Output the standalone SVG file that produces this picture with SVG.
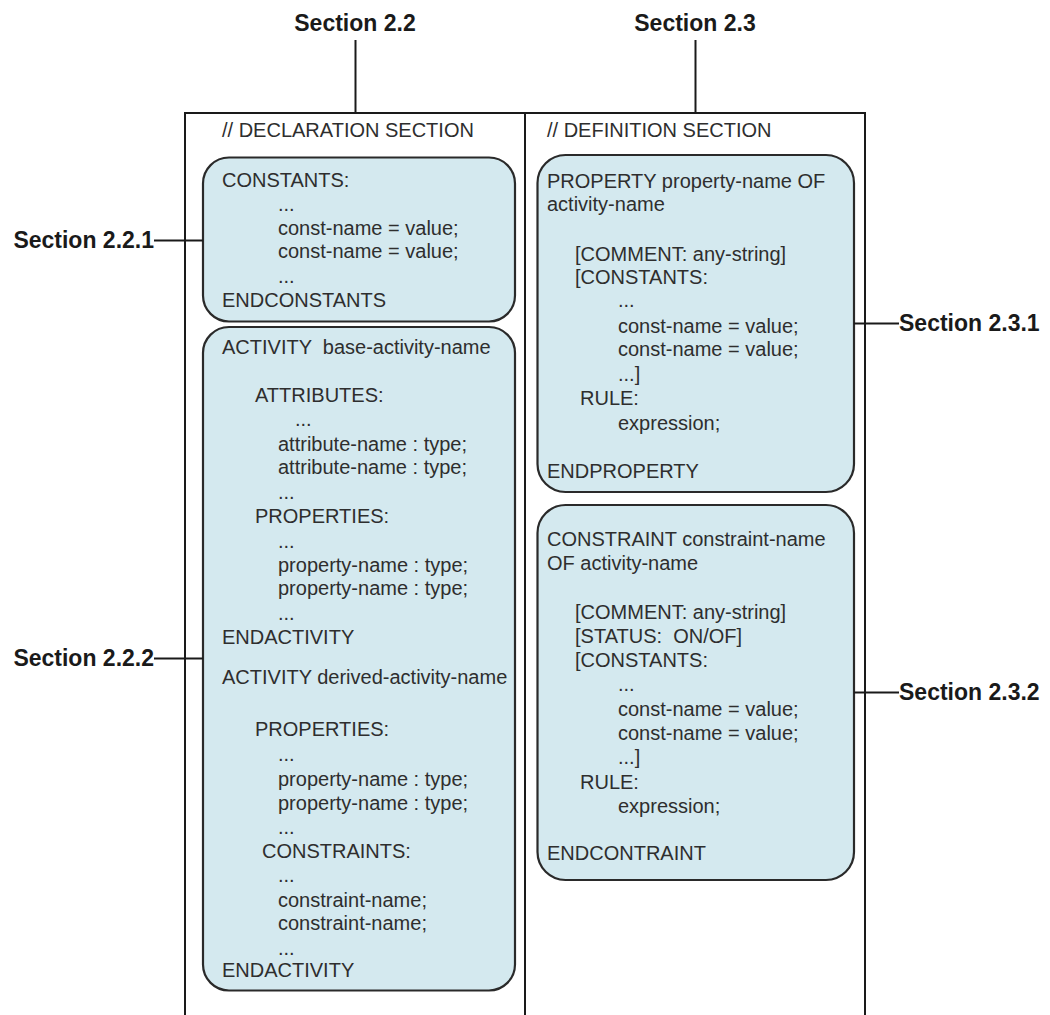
<svg xmlns="http://www.w3.org/2000/svg" width="1050" height="1015" viewBox="0 0 1050 1015">
  <style>
    .frame { fill: none; stroke: #1a1a1a; stroke-width: 2; }
    .box { fill: #d4e9ef; stroke: #2a2a2a; stroke-width: 2.2; }
    .code { font-family: "Liberation Sans", Arial, sans-serif; font-size: 20px; fill: #2e2e2e; }
    .label { font-family: "Liberation Sans", Arial, sans-serif; font-size: 23px; font-weight: bold; fill: #1a1a1a; }
    .conn { stroke: #1a1a1a; stroke-width: 2; fill: none; }
  </style>

  <rect width="1050" height="1015" fill="#ffffff"/>

  <!-- Two-column frame: declaration | definition -->
  <g id="frame">
    <path class="frame" d="M185,1015 V113 H865 V1015"/>
    <line class="frame" x1="525" y1="113" x2="525" y2="1015"/>
    <text class="code" x="222" y="137">// DECLARATION SECTION</text>
    <text class="code" x="547" y="137">// DEFINITION SECTION</text>
  </g>

  <!-- Section labels -->
  <g id="label-2-2"><text class="label" x="355" y="31" text-anchor="middle">Section 2.2</text></g>
  <g id="label-2-3"><text class="label" x="695" y="31" text-anchor="middle">Section 2.3</text></g>
  <g id="label-2-2-1"><text class="label" x="154" y="248" text-anchor="end">Section 2.2.1</text></g>
  <g id="label-2-2-2"><text class="label" x="154" y="666" text-anchor="end">Section 2.2.2</text></g>
  <g id="label-2-3-1"><text class="label" x="899" y="331">Section 2.3.1</text></g>
  <g id="label-2-3-2"><text class="label" x="899" y="700">Section 2.3.2</text></g>

  <!-- Constants declaration -->
  <g id="constants-decl">
    <rect class="box" x="203" y="157.5" width="312" height="164" rx="26"/>
    <text class="code" x="222" y="187">CONSTANTS:</text>
    <text class="code" x="278" y="210.5">...</text>
    <text class="code" x="278" y="234.5">const-name = value;</text>
    <text class="code" x="278" y="257.5">const-name = value;</text>
    <text class="code" x="278" y="283">...</text>
    <text class="code" x="222" y="307">ENDCONSTANTS</text>
  </g>

  <!-- Activity declarations -->
  <g id="activity-decl">
    <rect class="box" x="203" y="327" width="312" height="663.5" rx="26"/>
    <text class="code" x="222" y="354" xml:space="preserve">ACTIVITY  base-activity-name</text>
    <text class="code" x="255" y="402">ATTRIBUTES:</text>
    <text class="code" x="295" y="426">...</text>
    <text class="code" x="278" y="451">attribute-name : type;</text>
    <text class="code" x="278" y="474">attribute-name : type;</text>
    <text class="code" x="278" y="499">...</text>
    <text class="code" x="255" y="523">PROPERTIES:</text>
    <text class="code" x="278" y="548">...</text>
    <text class="code" x="278" y="572">property-name : type;</text>
    <text class="code" x="278" y="595">property-name : type;</text>
    <text class="code" x="278" y="620">...</text>
    <text class="code" x="222" y="644">ENDACTIVITY</text>
    <text class="code" x="222" y="684">ACTIVITY derived-activity-name</text>
    <text class="code" x="255" y="736">PROPERTIES:</text>
    <text class="code" x="278" y="761">...</text>
    <text class="code" x="278" y="786">property-name : type;</text>
    <text class="code" x="278" y="809.5">property-name : type;</text>
    <text class="code" x="278" y="834">...</text>
    <text class="code" x="262" y="858">CONSTRAINTS:</text>
    <text class="code" x="278" y="882">...</text>
    <text class="code" x="278" y="907">constraint-name;</text>
    <text class="code" x="278" y="929.5">constraint-name;</text>
    <text class="code" x="278" y="955">...</text>
    <text class="code" x="222" y="977">ENDACTIVITY</text>
  </g>

  <!-- Property definition -->
  <g id="property-def">
    <rect class="box" x="537.5" y="155" width="316.5" height="337" rx="28"/>
    <text class="code" x="547" y="187.5">PROPERTY property-name OF</text>
    <text class="code" x="547" y="211">activity-name</text>
    <text class="code" x="575" y="261">[COMMENT: any-string]</text>
    <text class="code" x="575" y="284">[CONSTANTS:</text>
    <text class="code" x="618" y="307">...</text>
    <text class="code" x="618" y="332.5">const-name = value;</text>
    <text class="code" x="618" y="356">const-name = value;</text>
    <text class="code" x="618" y="381">...]</text>
    <text class="code" x="580" y="405">RULE:</text>
    <text class="code" x="618" y="430">expression;</text>
    <text class="code" x="547" y="478">ENDPROPERTY</text>
  </g>

  <!-- Constraint definition -->
  <g id="constraint-def">
    <rect class="box" x="537.5" y="505" width="316.5" height="375" rx="28"/>
    <text class="code" x="547" y="546">CONSTRAINT constraint-name</text>
    <text class="code" x="547" y="569.5">OF activity-name</text>
    <text class="code" x="575" y="618.5">[COMMENT: any-string]</text>
    <text class="code" x="575" y="642.5" xml:space="preserve">[STATUS:  ON/OF]</text>
    <text class="code" x="575" y="666.5">[CONSTANTS:</text>
    <text class="code" x="618" y="691">...</text>
    <text class="code" x="618" y="715.5">const-name = value;</text>
    <text class="code" x="618" y="739.5">const-name = value;</text>
    <text class="code" x="618" y="764">...]</text>
    <text class="code" x="580" y="789">RULE:</text>
    <text class="code" x="618" y="812.5">expression;</text>
    <text class="code" x="547" y="860">ENDCONTRAINT</text>
  </g>

  <!-- Leader lines from labels to the parts they name -->
  <g id="connectors">
    <line class="conn" x1="355.5" y1="40" x2="355.5" y2="113"/>
    <line class="conn" x1="695.5" y1="40" x2="695.5" y2="113"/>
    <line class="conn" x1="154" y1="240.5" x2="203" y2="240.5"/>
    <line class="conn" x1="154" y1="658.5" x2="203" y2="658.5"/>
    <line class="conn" x1="854" y1="323.5" x2="899" y2="323.5"/>
    <line class="conn" x1="854" y1="692.5" x2="899" y2="692.5"/>
  </g>
</svg>
